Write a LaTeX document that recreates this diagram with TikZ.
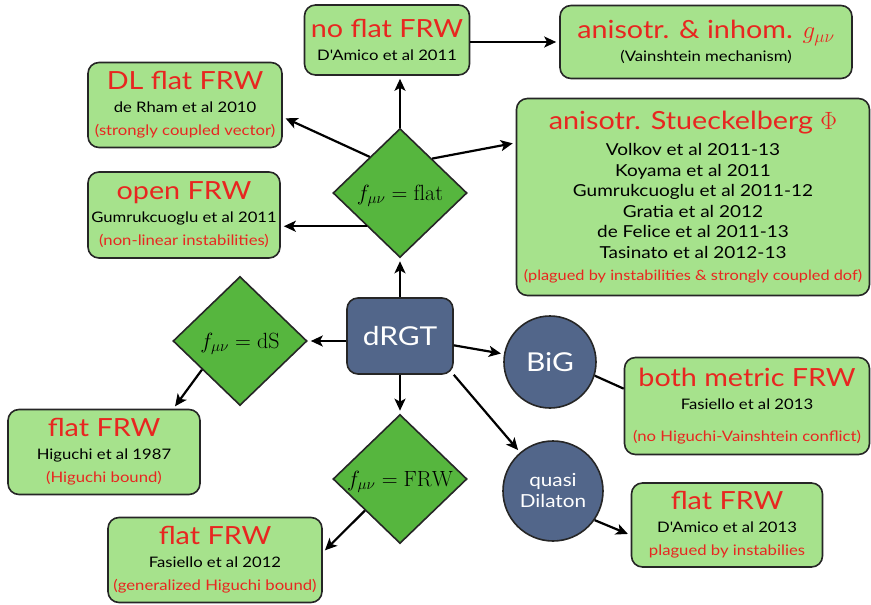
\documentclass[tikz,border=0pt]{standalone}
\usepackage{fix-cm}
\usepackage{fontspec}
\usepackage{amsmath}
\usetikzlibrary{arrows.meta,shapes.geometric}
\newfontfamily\gillfont[FakeStretch=1.15]{Lato}
\definecolor{box_green}{RGB}{166, 226, 140}
\definecolor{dia_green}{RGB}{86, 182, 62}
\definecolor{node_blue}{RGB}{82, 102, 138}
\definecolor{txt_red}{RGB}{232, 38, 32}
\newcommand{\headtxt}[2][25]{{\color{txt_red}\fontsize{#1}{#1}\selectfont #2}}
\newcommand{\redtxt}[1]{{\color{txt_red}#1}}
\newcommand{\diatxt}[1]{\raisebox{-7pt}[0pt][0pt]{\fontsize{22}{24}\selectfont #1}}
\tikzstyle{gbox}=[rectangle,rounded corners=11pt,fill=box_green,draw=black!85,
  line width=1.6pt,inner sep=2pt,align=center,font=\gillfont\fontsize{14.5}{23}\selectfont]
\tikzstyle{dia}=[diamond,fill=dia_green,draw=black!85,line width=1.6pt,
  inner sep=0pt,minimum width=134pt,minimum height=129pt]
\tikzstyle{bn}=[rectangle,rounded corners=11pt,fill=node_blue,draw=black!85,
  line width=1.6pt,text=white,font=\gillfont\fontsize{26}{28}\selectfont]
\tikzstyle{bc}=[circle,fill=node_blue,draw=black!85,line width=1.6pt,
  inner sep=0pt,text=white,align=center,font=\gillfont]
\tikzstyle{arr}=[-{Stealth[length=12pt,width=11pt,inset=3pt]},line width=2.2pt,
  shorten >=3pt]
\tikzstyle{none}=[]

\begin{document}
\begin{tikzpicture}[x=1pt, y=-1pt]
            \useasboundingbox (0, 0) rectangle (871, 605);
            \node [style=bn, minimum width=106pt, minimum height=76pt] (0) at (400, 336) {dRGT};
            \node [style=gbox, minimum width=165pt, minimum height=70pt] (1) at (387, 40) {\headtxt{no flat FRW}\\ D'Amico et al 2011};
            \node [style=gbox, minimum width=292pt, minimum height=73pt] (2) at (706, 42) {\headtxt{anisotr. \& inhom. $g_{\mu\nu}$}\\ (Vainshtein mechanism)};
            \node [style=gbox, minimum width=194pt, minimum height=85pt] (3) at (185, 105) {\headtxt{DL flat FRW}\\ de Rham et al 2010\\ \redtxt{(strongly coupled vector)}};
            \node [style=gbox, minimum width=192pt, minimum height=86pt] (4) at (184, 215) {\headtxt{open FRW}\\ Gumrukcuoglu et al 2011\\ \redtxt{(non-linear instabilities)}};
            \node [style=dia] (5) at (400, 193) {\diatxt{$f_{\mu\nu}=\mathrm{flat}$}};
            \node [style=gbox, minimum width=353pt, minimum height=197pt, font=\gillfont\fontsize{16.5}{20.5}\selectfont] (6) at (693, 197) {\headtxt{anisotr. Stueckelberg $\Phi$}\\[6pt] Volkov et al 2011-13\\ Koyama et al 2011\\ Gumrukcuoglu et al 2011-12\\ Gratia et al 2012\\ de Felice et al 2011-13\\ Tasinato et al 2012-13\\[2pt] \redtxt{\fontsize{14.2}{18}\selectfont (plagued by instabilities \& strongly coupled dof)}};
            \node [style=dia] (8) at (240, 341) {\diatxt{$f_{\mu\nu}=\mathrm{dS}$}};
            \node [style=gbox, minimum width=192pt, minimum height=85pt] (9) at (104, 452) {\headtxt{flat FRW}\\ Higuchi et al 1987\\ \redtxt{(Higuchi bound)}};
            \node [style=dia] (10) at (400, 479) {\diatxt{$f_{\mu\nu}=\mathrm{FRW}$}};
            \node [style=gbox, minimum width=214pt, minimum height=85pt] (11) at (215, 560) {\headtxt{flat FRW}\\ Fasiello et al 2012\\ \redtxt{(generalized Higuchi bound)}};
            \node [style=bc, minimum size=92pt, font=\gillfont\fontsize{26}{28}\selectfont] (12) at (550, 362) {BiG};
            \node [style=bc, minimum size=100pt, font=\gillfont\fontsize{18}{21}\selectfont] (13) at (553, 491) {quasi\\ Dilaton};
            \node [style=gbox, minimum width=245pt, minimum height=97pt] (14) at (747, 406) {\headtxt{both metric FRW}\\ Fasiello et al 2013\\[9pt] \redtxt{(no Higuchi-Vainshtein conflict)}};
            \node [style=gbox, minimum width=191pt, minimum height=84pt] (15) at (727, 525) {\headtxt{flat FRW}\\ D'Amico et al 2013\\ \redtxt{plagued by instabilies}};
            \draw [style=arr] (0.north -| 5) to (5.south);
            \draw [style=arr] (5.north) to (5.north |- 1.south);
            \draw [style=arr] (1.east |- 2.west) to (2.west);
            \draw [style=arr] (5.130) to (3.-7);
            \draw [style=arr] (5.225) to (5.225 -| 4.east);
            \draw [style=arr] (5.47) to (6.163);
            \draw [style=arr] (0.west |- 8.east) to (8.east);
            \draw [style=arr] (8.217) to (9.32);
            \draw [style=arr] (0.south -| 10) to (10.north);
            \draw [style=arr] (10.222) to (11.4);
            \draw [style=arr] (0) to (12);
            \draw [style=arr] (0.south east) to (13);
            \draw [line width=2.2pt] (12.-17) to (14.172.5);
            \draw [style=arr] (13.-35) to (15.186);
    \end{tikzpicture}
\end{document}
